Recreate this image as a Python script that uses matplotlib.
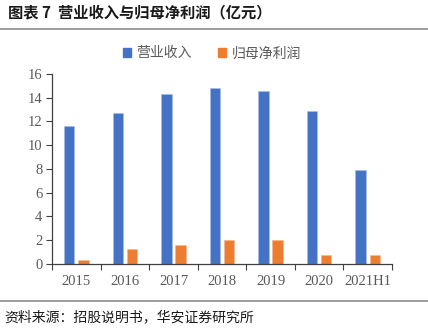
import numpy as np
import matplotlib.pyplot as plt
from matplotlib.lines import Line2D
from matplotlib.patches import Patch

plt.rcParams['font.family'] = ['Noto Sans CJK SC', 'DejaVu Sans']

years = ["2015", "2016", "2017", "2018", "2019", "2020", "2021H1"]
revenue = [11.6, 12.7, 14.35, 14.85, 14.6, 12.9, 7.9]
net_profit = [0.3, 1.25, 1.6, 2.0, 2.0, 0.75, 0.75]

blue = "#4472C4"
orange = "#ED7D31"
grey = "#595959"

fig = plt.figure(figsize=(4.28, 3.29), dpi=100)
ax = fig.add_axes([0.1215, 0.1976, 0.7945, 0.5775])

x = np.arange(len(years))
w = 0.215
ax.bar(x - 0.145, revenue, width=w, color=blue, edgecolor="#a9bde6", linewidth=0.4)
ax.bar(x + 0.145, net_profit, width=w, color=orange, edgecolor="#f5b58a", linewidth=0.4)

ax.set_xlim(-0.5, len(years) - 0.5)
ax.set_ylim(0, 16)
ax.set_yticks(range(0, 17, 2))
ax.set_xticks(x)
ax.set_xticklabels(years)
# category boundary tick marks on the x axis
ax.set_xticks(np.arange(-0.5, len(years), 1), minor=True)
ax.tick_params(axis="x", which="major", length=0, pad=8)
ax.tick_params(axis="x", which="minor", length=4, width=0.8, color="#404040", direction="out")
ax.tick_params(axis="y", length=4, width=0.8, color="#404040", direction="out", pad=3)
for lab in ax.get_xticklabels() + ax.get_yticklabels():
    lab.set_fontfamily("Liberation Serif")
    lab.set_fontsize(10.5)
    lab.set_color(grey)

for s in ["top", "right"]:
    ax.spines[s].set_visible(False)
for s in ["left", "bottom"]:
    ax.spines[s].set_color("#404040")
    ax.spines[s].set_linewidth(0.9)

handles = [Patch(color=blue, label="营业收入"), Patch(color=orange, label="归母净利润")]
fig.legend(handles=handles, loc="center", bbox_to_anchor=(0.495, 0.838), ncol=2, frameon=False,
           handlelength=0.6, handleheight=0.6, handletextpad=0.35, columnspacing=1.9,
           prop={"size": 10}, labelcolor=grey)

fig.text(0.019, 0.962, "图表 7  营业收入与归母净利润（亿元）", fontsize=11, fontweight="bold",
         va="center", ha="left", color="#1a1a1a")
fig.add_artist(Line2D([0, 1], [0.913, 0.913], color="#8c8c8c", linewidth=1.2))
fig.add_artist(Line2D([0, 1], [0.085, 0.085], color="#8c8c8c", linewidth=1.2))
fig.text(0.01, 0.035, "资料来源：招股说明书，华安证券研究所", fontsize=10, va="center", ha="left",
         color="#1a1a1a")

fig.savefig("out.png", dpi=100)
